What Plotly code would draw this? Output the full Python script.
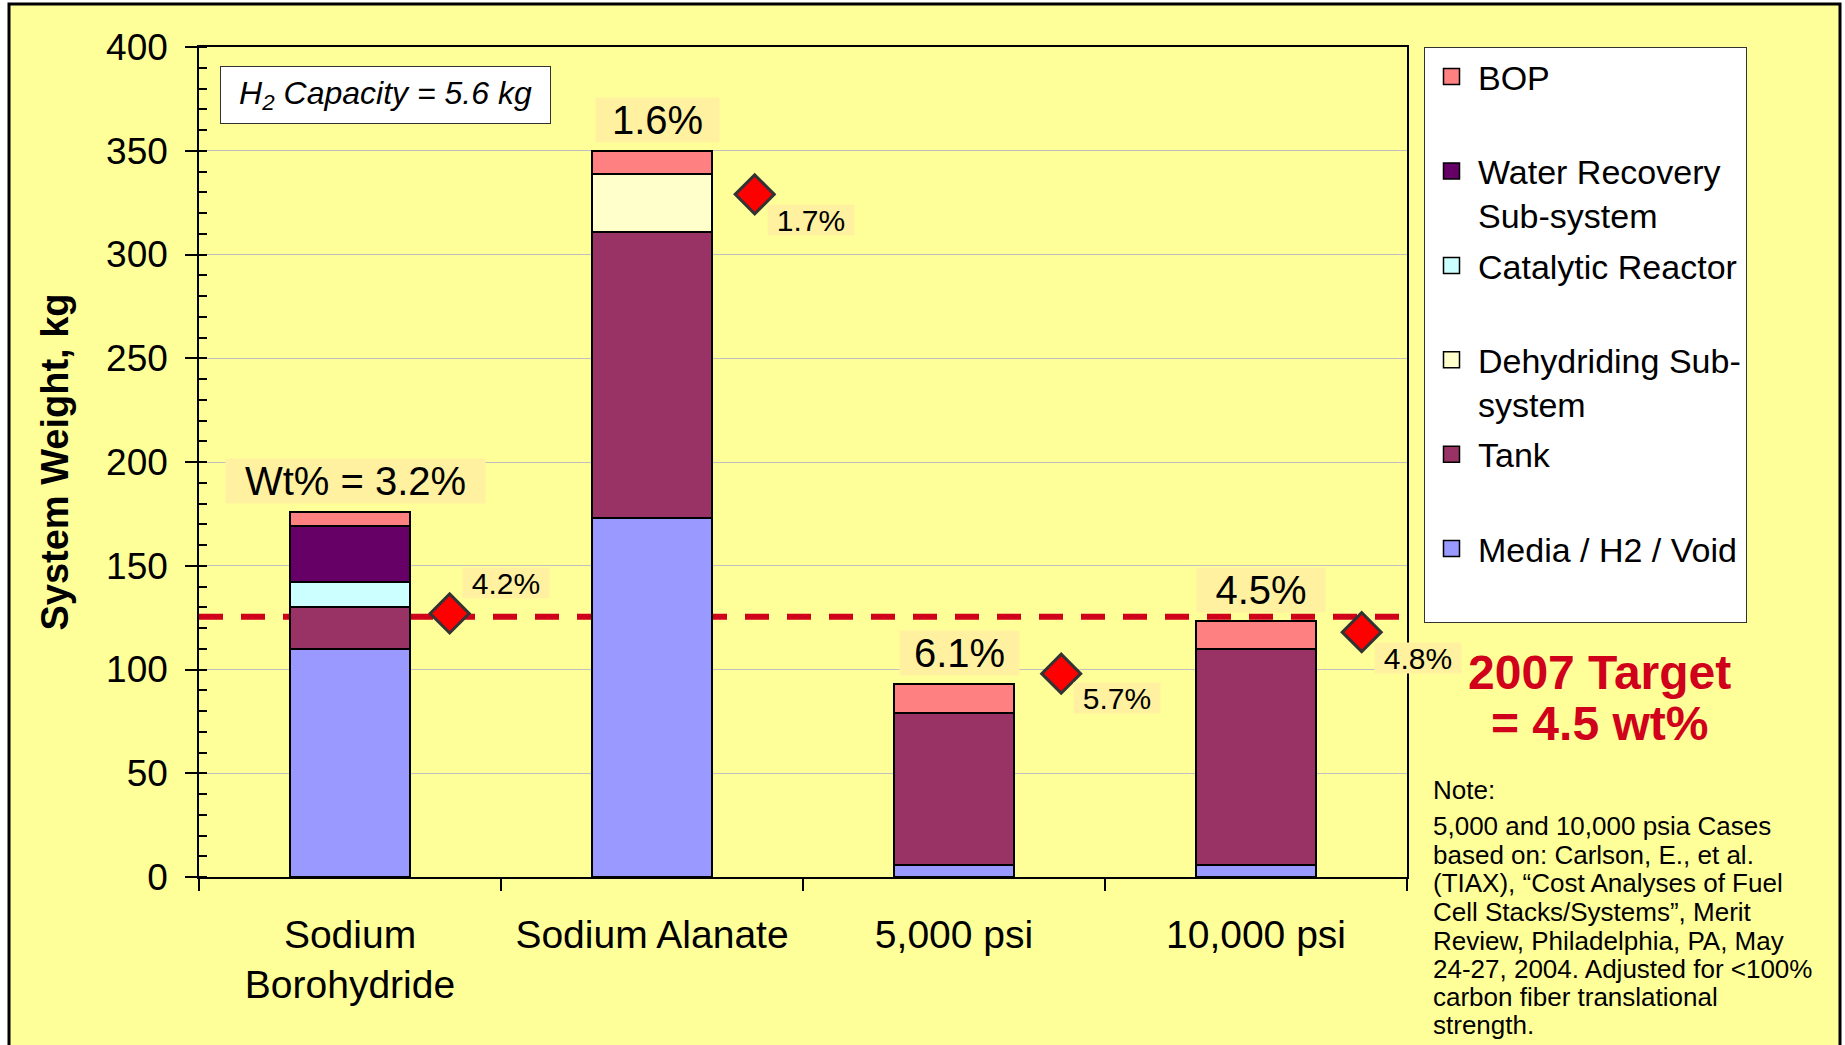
import plotly.graph_objects as go

# ---- data -----------------------------------------------------------------
CATEGORIES = ["Sodium<br>Borohydride", "Sodium Alanate", "5,000 psi", "10,000 psi"]

MEDIA_H2_VOID = [110, 173, 6, 6]
TANK = [20, 138, 73, 104]
DEHYDRIDING = [None, 28, None, None]
CATALYTIC_REACTOR = [12, None, None, None]
WATER_RECOVERY = [27, None, None, None]
BOP = [7, 11, 14, 13.5]

WT_PCT_LABELS = ["Wt% = 3.2%", "1.6%", "6.1%", "4.5%"]

ALT_SYSTEM_WEIGHT = [127, 329, 98, 118]
ALT_WT_PCT_LABELS = ["4.2%", "1.7%", "5.7%", "4.8%"]

H2_CAPACITY_KG = 5.6
TARGET_WT_PCT = 4.5
TARGET_LINE_KG = 125.4

NOTE_LINES = [
    "Note:",
    "5,000 and 10,000 psia Cases",
    "based on: Carlson, E., et al.",
    "(TIAX), \u201cCost Analyses of Fuel",
    "Cell Stacks/Systems\u201d, Merit",
    "Review, Philadelphia, PA, May",
    "24-27, 2004. Adjusted for <100%",
    "carbon fiber translational",
    "strength.",
]

# ---- styling --------------------------------------------------------------
FONT = "Liberation Sans, Arial, sans-serif"
BG_YELLOW = "#FFFF99"
LABEL_BG = "#FFF1A0"
TARGET_RED = "#D0021B"

SERIES = [  # stacking order, bottom to top
    ("Media / H2 / Void", MEDIA_H2_VOID, "#9999FF"),
    ("Tank", TANK, "#993366"),
    ("Dehydriding Sub-<br>system", DEHYDRIDING, "#FFFFCC"),
    ("Catalytic Reactor", CATALYTIC_REACTOR, "#CCFFFF"),
    ("Water Recovery<br>Sub-system", WATER_RECOVERY, "#660066"),
    ("BOP", BOP, "#FF8080"),
]

BAR_LABEL_WIDTHS = [257, 121, 117, 126]
ALT_LABEL_YSHIFT = [30, -26, -24, -26]
DIAMOND_OFFSETS = [0.33, 0.34, 0.355, 0.35]

X = list(range(len(CATEGORIES)))

# pixel -> paper helpers for the fixed plot frame
L, R, T, B = 199, 1407, 47, 877
W_FIG, H_FIG = 1845, 1045


def px_x(p):
    return (p - L) / (R - L)


def px_y(p):
    return (B - p) / (B - T)


fig = go.Figure()

# stacked bars
for name, vals, color in SERIES:
    fig.add_trace(go.Bar(
        x=X, y=vals, width=0.4, name=name.replace("<br>", " "),
        marker=dict(color=color, line=dict(color="black", width=2)),
        showlegend=False, hoverinfo="skip",
    ))

# legend entries (top to bottom)
for name, vals, color in reversed(SERIES):
    label = name if "<br>" in name else name + "<br>\u00a0"
    fig.add_trace(go.Scatter(
        x=[None], y=[None], mode="markers", name=label, legendgroup=name,
        marker=dict(symbol="square", size=16, color=color,
                    line=dict(color="black", width=1.5)),
        showlegend=True,
    ))

# alternative-case diamonds
diamond_x = [i + off for i, off in zip(X, DIAMOND_OFFSETS)]
fig.add_trace(go.Scatter(
    x=diamond_x, y=ALT_SYSTEM_WEIGHT, mode="markers",
    marker=dict(symbol="diamond", size=30, color="#FF0000",
                line=dict(color="#333333", width=3)),
    showlegend=False, cliponaxis=False, hoverinfo="skip",
))

annotations = []

# capacity box
annotations.append(dict(
    x=px_x(385), y=px_y(95), xref="paper", yref="paper",
    xanchor="center", yanchor="middle",
    text=f"<i>H<sub>2</sub> Capacity = {H2_CAPACITY_KG} kg</i>",
    showarrow=False, width=329, height=56, bgcolor="white",
    bordercolor="#333333", borderwidth=1, borderpad=0,
    font=dict(size=32, color="black"),
))

# wt% labels above each stacked bar
totals = [sum(v[i] or 0 for _, v, _ in SERIES) for i in X]
for i, (txt, tot, w) in enumerate(zip(WT_PCT_LABELS, totals, BAR_LABEL_WIDTHS)):
    annotations.append(dict(
        x=i, y=tot, xref="x", yref="y", text=txt, showarrow=False,
        xanchor="center", yanchor="bottom", xshift=5, yshift=8, width=w, height=42,
        bgcolor=LABEL_BG, font=dict(size=40, color="black"),
    ))

# labels beside the diamonds
for xd, txt, val, ys in zip(diamond_x, ALT_WT_PCT_LABELS, ALT_SYSTEM_WEIGHT, ALT_LABEL_YSHIFT):
    annotations.append(dict(
        x=xd, y=val, xref="x", yref="y", text=txt,
        xanchor="center", yanchor="middle",
        showarrow=False, xshift=56, yshift=ys, width=84, height=28,
        bgcolor=LABEL_BG, font=dict(size=30, color="black"),
    ))

# target callout
annotations.append(dict(
    x=px_x(1599), y=px_y(672), xref="paper", yref="paper",
    xanchor="center", yanchor="middle",
    text="<b>2007 Target</b>", showarrow=False,
    font=dict(size=48, color=TARGET_RED),
))
annotations.append(dict(
    x=px_x(1599), y=px_y(723), xref="paper", yref="paper",
    xanchor="center", yanchor="middle",
    text=f"<b>= {TARGET_WT_PCT} wt%</b>", showarrow=False,
    font=dict(size=48, color=TARGET_RED),
))

# reference note
note_y = [790, 826, 855, 883, 912, 941, 969, 997, 1025]
for line, py in zip(NOTE_LINES, note_y):
    annotations.append(dict(
        x=px_x(1431), y=px_y(py), xref="paper", yref="paper",
        xanchor="left", yanchor="middle", text=line, showarrow=False,
        font=dict(size=26, color="black"),
    ))

x_lo, x_hi = -0.5, len(CATEGORIES) - 0.5

shapes = [
    # chart frame
    dict(type="rect", xref="paper", yref="paper",
         x0=px_x(9), x1=px_x(1840), y0=px_y(1100), y1=px_y(4),
         fillcolor=BG_YELLOW, line=dict(color="black", width=3), layer="below"),
    # 2007 target weight
    dict(type="line", xref="x", yref="y", x0=x_lo, x1=x_hi,
         y0=TARGET_LINE_KG, y1=TARGET_LINE_KG,
         line=dict(color=TARGET_RED, width=6, dash="24px,18px"), layer="below"),
]

fig.update_layout(
    template="none",
    width=W_FIG, height=H_FIG,
    margin=dict(l=L, r=W_FIG - R, t=T, b=H_FIG - B, pad=0),
    paper_bgcolor="white", plot_bgcolor=BG_YELLOW,
    barmode="stack",
    font=dict(family=FONT, color="black"),
    showlegend=True,
    legend=dict(
        x=px_x(1424), xanchor="left", y=1, yanchor="top",
        bgcolor="white", bordercolor="#333333", borderwidth=1,
        font=dict(size=34, color="black"), traceorder="grouped",
        tracegroupgap=3, valign="top", itemwidth=43,
    ),
    xaxis=dict(
        range=[x_lo, x_hi], tickmode="array", tickvals=X,
        ticktext=CATEGORIES, ticks="", showgrid=False, zeroline=False,
        showline=True, linecolor="black", linewidth=1.5, mirror=True,
        tickfont=dict(size=39), automargin=False, ticklabelstandoff=22,
        minor=dict(tickmode="array", tickvals=[i - 0.5 for i in range(len(CATEGORIES) + 1)],
                   ticks="outside", ticklen=12, tickwidth=1.5, tickcolor="black",
                   showgrid=False),
    ),
    yaxis=dict(
        range=[0, 400], tickmode="linear", tick0=0, dtick=50,
        ticks="outside", ticklen=12, tickwidth=1.5, tickcolor="black",
        showgrid=True, gridcolor="#C0C0C0", gridwidth=1, zeroline=False,
        showline=True, linecolor="black", linewidth=1.5, mirror=True,
        tickfont=dict(size=37), automargin=False, ticklabelstandoff=10,
        minor=dict(dtick=10, ticks="inside", ticklen=8, tickwidth=1.5,
                   tickcolor="black", showgrid=False),
        title=dict(text="<b>System Weight, kg</b>", font=dict(size=38), standoff=26),
    ),
    annotations=annotations,
    shapes=shapes,
)

fig.write_html("out.html", config={"displayModeBar": False})
